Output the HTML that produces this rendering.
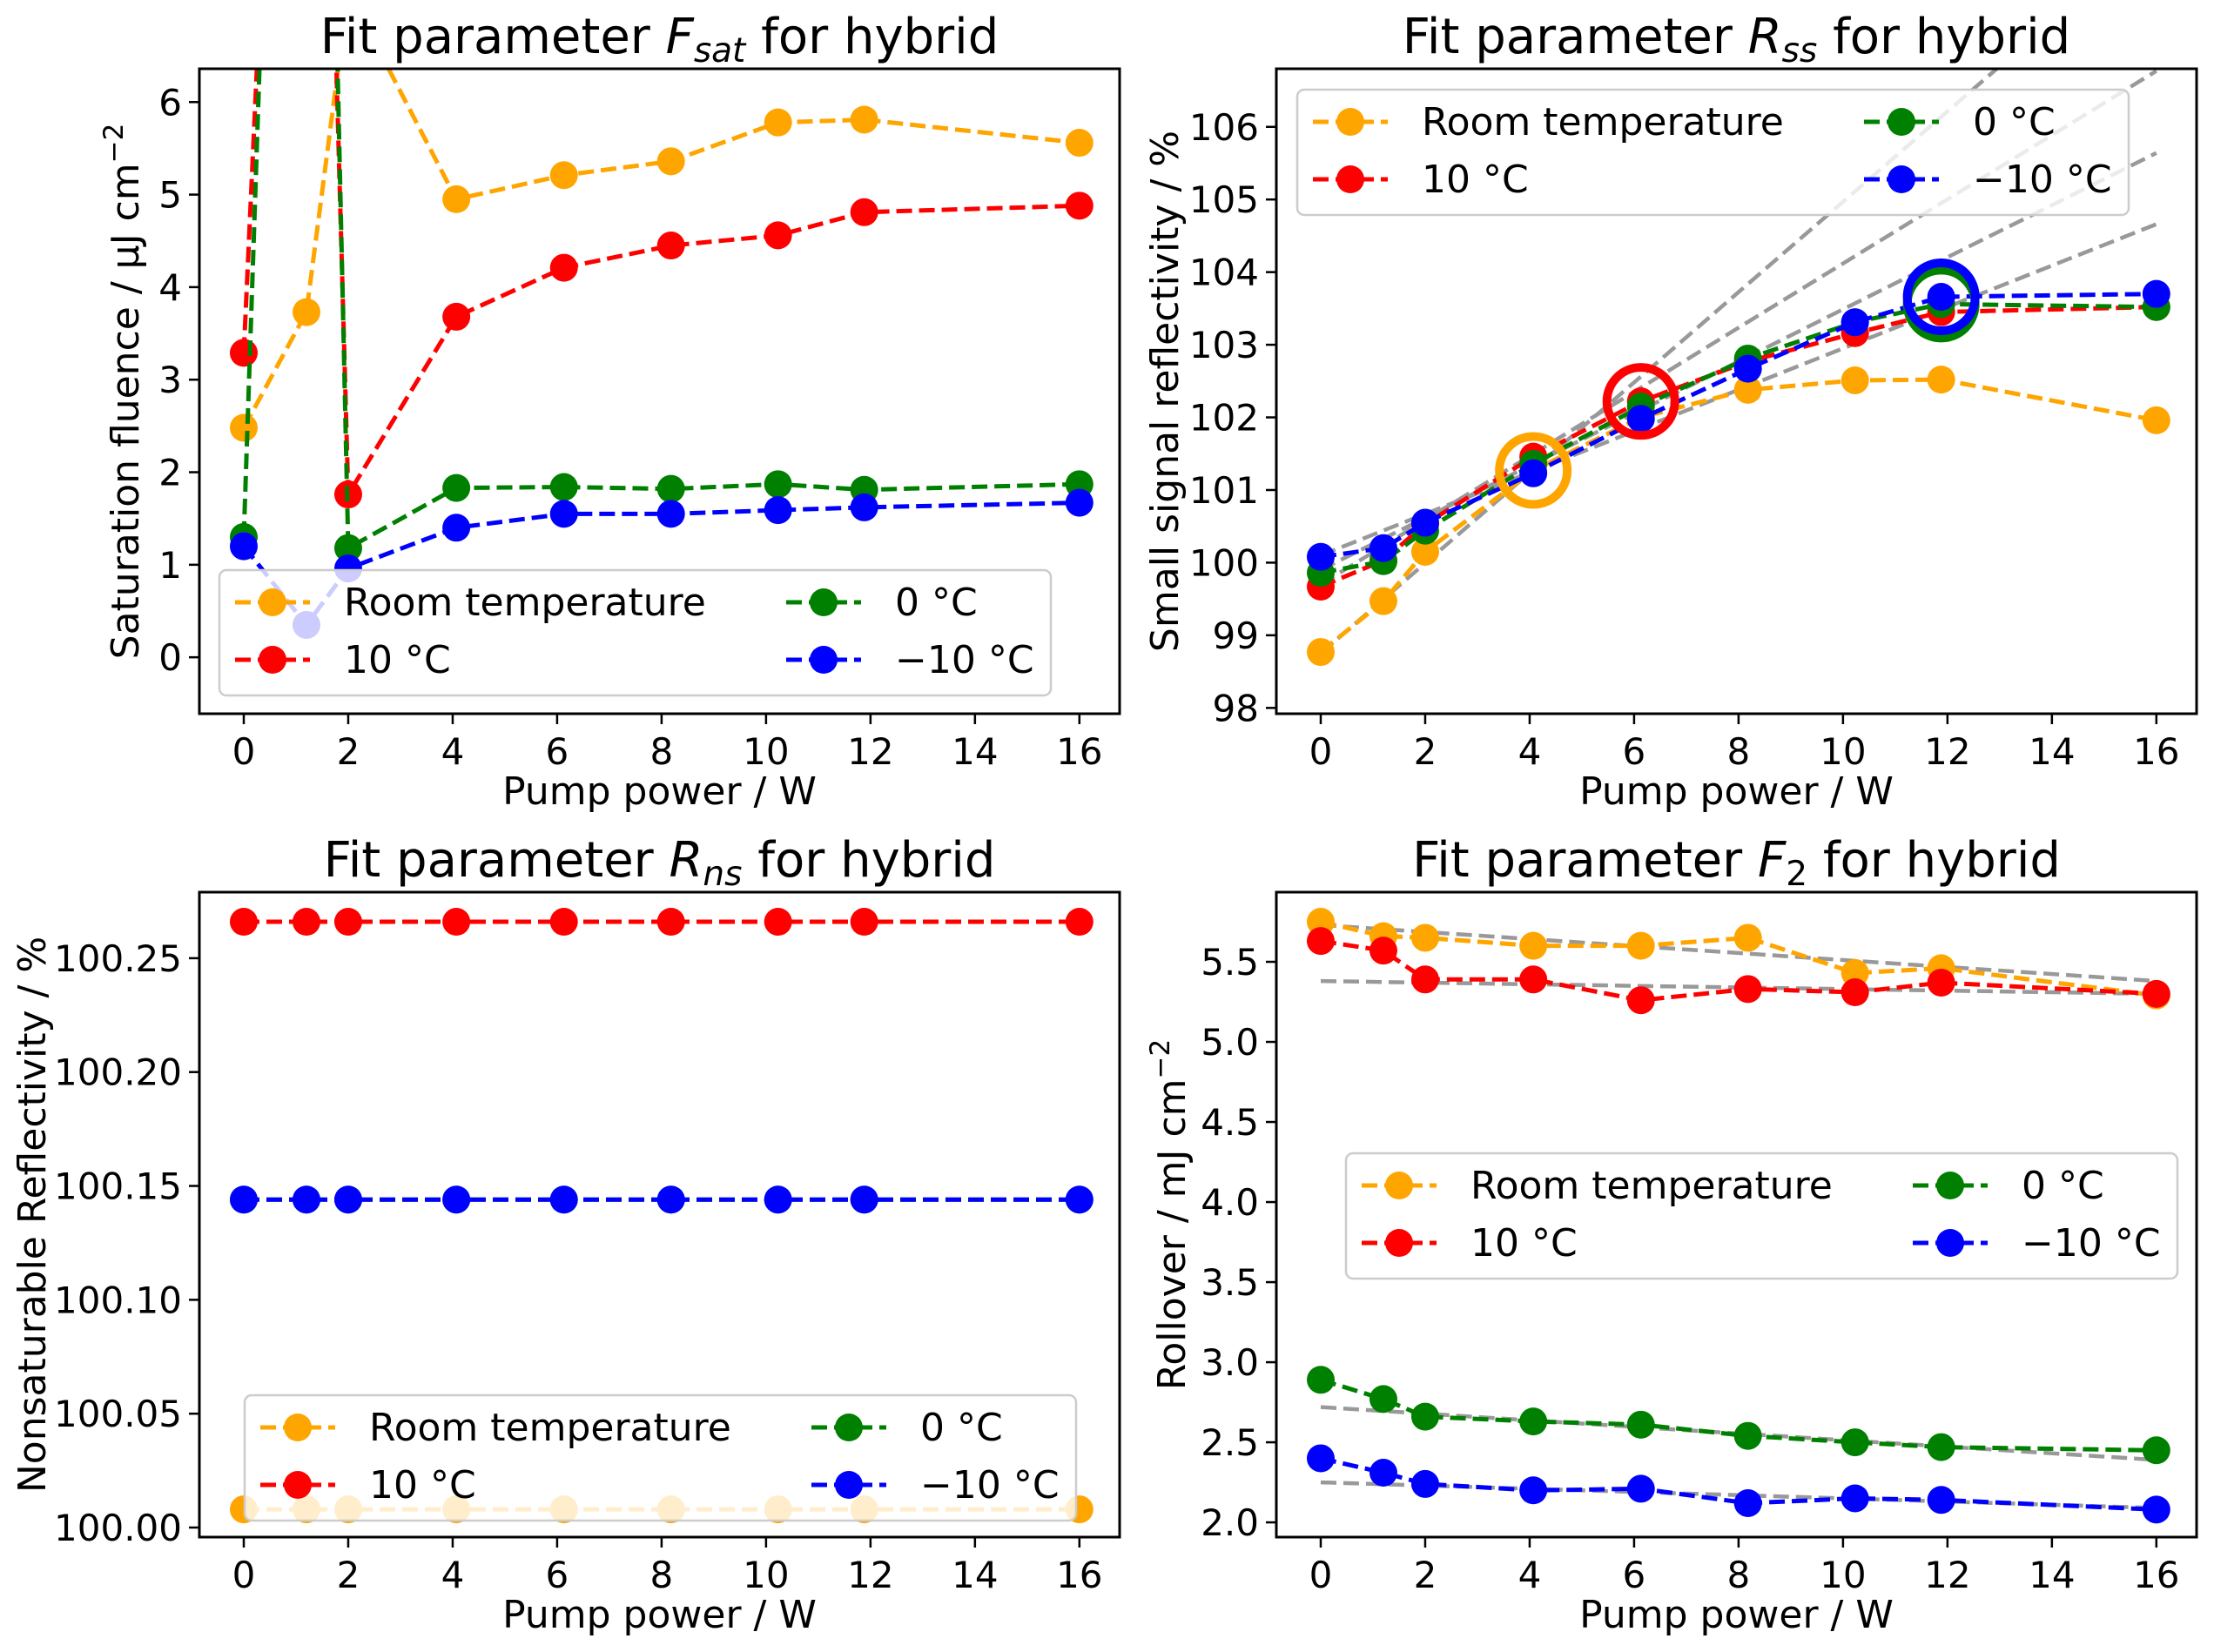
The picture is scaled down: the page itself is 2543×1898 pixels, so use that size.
<!DOCTYPE html>
<html><head><meta charset="utf-8"><style>
html,body{margin:0;padding:0;background:#fff}
svg{display:block}
text{font-family:"DejaVu Sans","Liberation Sans",sans-serif;fill:#000}
</style></head><body>
<svg id="fig" xmlns="http://www.w3.org/2000/svg" width="2543" height="1898" viewBox="0 0 2543 1898"></svg>
<script>
const X = [0,1.2,2,4.07,6.13,8.18,10.23,11.88,16];
const xTicks = [0,2,4,6,8,10,12,14,16];
const seriesNames = ["Room temperature","10 °C","0 °C","\u221210 °C"];
const seriesColors = ["orange","red","green","blue"];
// Panel 1: F_sat
const fsatRT = [2.48,3.73,7.2,4.95,5.21,5.36,5.78,5.81,5.56];
const fsat10 = [3.29,18.0,1.76,3.68,4.21,4.45,4.56,4.81,4.88];
const fsat0  = [1.30,21.5,1.18,1.83,1.84,1.82,1.87,1.81,1.87];
const fsatM10= [1.20,0.35,0.96,1.40,1.55,1.55,1.59,1.62,1.67];
const fsatTicks = [0,1,2,3,4,5,6];
// Panel 2: R_ss
const rssRT = [98.77,99.47,100.15,101.27,102.0,102.38,102.51,102.52,101.96];
const rss10 = [99.67,100.03,100.53,101.46,102.22,102.77,103.16,103.45,103.52];
const rss0  = [99.86,100.02,100.44,101.36,102.15,102.81,103.31,103.56,103.52];
const rssM10= [100.08,100.20,100.55,101.23,101.98,102.67,103.31,103.66,103.70];
const rssTicks = [98,99,100,101,102,103,104,105,106];
const rssFitStart = [98.75,99.7,99.9,100.1];
const rssFitEnd = [108.7,106.77,105.64,104.66];
const ringX = [4.07,6.13,11.88,11.88];
const ringY = [101.27,102.22,103.56,103.66];
const ringColors = ["orange","red","green","blue"];
// Panel 3: R_ns
const rnsRT = [100.008,100.008,100.008,100.008,100.008,100.008,100.008,100.008,100.008];
const rns10 = [100.266,100.266,100.266,100.266,100.266,100.266,100.266,100.266,100.266];
const rns0  = [100.144,100.144,100.144,100.144,100.144,100.144,100.144,100.144,100.144];
const rnsM10= [100.144,100.144,100.144,100.144,100.144,100.144,100.144,100.144,100.144];
const rnsTicks = [100.00,100.05,100.10,100.15,100.20,100.25];
// Panel 4: F_2
const f2RT = [5.75,5.66,5.65,5.60,5.60,5.65,5.43,5.46,5.29];
const f210 = [5.63,5.57,5.39,5.39,5.26,5.33,5.31,5.37,5.30];
const f20  = [2.89,2.77,2.66,2.63,2.61,2.54,2.50,2.47,2.45];
const f2M10= [2.40,2.31,2.24,2.20,2.21,2.12,2.15,2.14,2.08];
const f2Ticks = [2.0,2.5,3.0,3.5,4.0,4.5,5.0,5.5];
const f2FitStart = [5.73,5.38,2.72,2.25];
const f2FitEnd = [5.38,5.30,2.39,2.09];

const NS="http://www.w3.org/2000/svg";
const svg=document.getElementById('fig');
const LW=5, DASH='18 8';
function mk(tag,attrs,parent){const e=document.createElementNS(NS,tag);for(const k in attrs)e.setAttribute(k,attrs[k]);(parent||svg).appendChild(e);return e;}

function panel(cfg){
  const g=mk('g',{});
  
  
  const sx=v=>cfg.x0+(v-(-0.85))/(16.77+0.85)*(cfg.x1-cfg.x0);
  const sy=v=>cfg.y1-(v-cfg.ylim[0])/(cfg.ylim[1]-cfg.ylim[0])*(cfg.y1-cfg.y0);
  const cid='clip-'+cfg.name;
  const cp=mk('clipPath',{id:cid},g);
  mk('rect',{x:cfg.x0,y:cfg.y0,width:cfg.x1-cfg.x0,height:cfg.y1-cfg.y0},cp);
  const plot=mk('g',{'clip-path':'url(#'+cid+')'},g);
  if(cfg.fitStart){
    cfg.fitStart.forEach((s,i)=>{
      const l=mk('line',{x1:sx(0),y1:sy(s),x2:sx(16),y2:sy(cfg.fitEnd[i]),stroke:'#999','stroke-width':4.5,'stroke-dasharray':DASH},plot);
      
      
    });
  }
  cfg.series.forEach((arr,si)=>{
    const sg=mk('g',{},plot);
    
    
    const pts=arr.map((v,i)=>sx(X[i]).toFixed(1)+','+sy(v).toFixed(1)).join(' ');
    mk('polyline',{points:pts,fill:'none',stroke:seriesColors[si],'stroke-width':LW,'stroke-dasharray':DASH},sg);
    arr.forEach((v,i)=>{
      const c=mk('circle',{cx:sx(X[i]),cy:sy(v),r:16,fill:seriesColors[si]},sg);
      
      
    });
  });
  if(cfg.rings){
    ringX.forEach((rx,i)=>{
      const c=mk('circle',{cx:sx(rx),cy:sy(ringY[i]),r:39,fill:'none',stroke:ringColors[i],'stroke-width':10},plot);
      
      
    });
  }
  const fr=mk('rect',{x:cfg.x0,y:cfg.y0,width:cfg.x1-cfg.x0,height:cfg.y1-cfg.y0,fill:'none',stroke:'#000','stroke-width':3},g);
  
  
  xTicks.forEach(t=>{
    const x=sx(t);
    mk('line',{x1:x,y1:cfg.y1,x2:x,y2:cfg.y1+12,stroke:'#000','stroke-width':2.5},g);
    const tx=mk('text',{x:x,y:cfg.y1+58,'text-anchor':'middle','font-size':42},g);
    tx.textContent=t;
    
    
  });
  cfg.yticks.forEach(t=>{
    const y=sy(t);
    mk('line',{x1:cfg.x0-12,y1:y,x2:cfg.x0,y2:y,stroke:'#000','stroke-width':2.5},g);
    const tx=mk('text',{x:cfg.x0-20,y:y+15,'text-anchor':'end','font-size':42},g);
    tx.textContent=t.toFixed(cfg.dec);
    
    
  });
  const xl=mk('text',{x:(cfg.x0+cfg.x1)/2,y:cfg.y1+104,'text-anchor':'middle','font-size':44},g);
  xl.textContent='Pump power / W';
  
  
  const yl=mk('text',{transform:'translate('+cfg.ylx+','+((cfg.y0+cfg.y1)/2)+') rotate(-90)','text-anchor':'middle','font-size':44},g);
  yl.innerHTML=cfg.ylabel;
  
  
  const tt=mk('text',{x:(cfg.x0+cfg.x1)/2,y:cfg.y0-18,'text-anchor':'middle','font-size':56},g);
  tt.innerHTML=cfg.title;
  
  
  const lg=mk('g',{},g);
  
  
  const L=cfg.leg;
  mk('rect',{x:L[0],y:L[1],width:955,height:144,rx:8,fill:'#fff','fill-opacity':0.8,stroke:'#ccc','stroke-width':2.5},lg);
  const pos=[[0,0],[0,1],[1,0],[1,1]];
  pos.forEach((p,i)=>{
    const mx=L[0]+(p[0]?694:61), ty=L[1]+(p[1]?103:37);
    const eg=mk('g',{},lg);
    
    
    mk('line',{x1:mx-43,y1:ty,x2:mx+43,y2:ty,stroke:seriesColors[i],'stroke-width':LW,'stroke-dasharray':DASH},eg);
    mk('circle',{cx:mx,cy:ty,r:16,fill:seriesColors[i]},eg);
    const t=mk('text',{x:mx+82,y:ty+15,'font-size':44},eg);
    t.textContent=seriesNames[i];
  });
}
panel({name:'panel-fsat',x0:229,x1:1286,y0:79,y1:820,ylim:[-0.61,6.36],yticks:fsatTicks,dec:0,
  series:[fsatRT,fsat10,fsat0,fsatM10],ylx:159,
  ylabel:'Saturation fluence / μJ cm<tspan dy="-18" font-size="31">−2</tspan>',
  title:'Fit parameter <tspan font-style="italic">F</tspan><tspan font-style="italic" font-size="39" dy="10">sat</tspan><tspan dy="-10"> for hybrid</tspan>',
  leg:[252,655]});
panel({name:'panel-rss',x0:1466,x1:2523,y0:79,y1:820,ylim:[97.92,106.80],yticks:rssTicks,dec:0,
  series:[rssRT,rss10,rss0,rssM10],ylx:1353,fitStart:rssFitStart,fitEnd:rssFitEnd,rings:true,
  ylabel:'Small signal reflectivity / %',
  title:'Fit parameter <tspan font-style="italic">R</tspan><tspan font-style="italic" font-size="39" dy="10">ss</tspan><tspan dy="-10"> for hybrid</tspan>',
  leg:[1490,103]});
panel({name:'panel-rns',x0:229,x1:1286,y0:1025,y1:1766,ylim:[99.9958,100.279],yticks:rnsTicks,dec:2,
  series:[rnsRT,rns10,rns0,rnsM10],ylx:52,
  ylabel:'Nonsaturable Reflectivity / %',
  title:'Fit parameter <tspan font-style="italic">R</tspan><tspan font-style="italic" font-size="39" dy="10">ns</tspan><tspan dy="-10"> for hybrid</tspan>',
  leg:[281,1603]});
panel({name:'panel-f2',x0:1466,x1:2523,y0:1025,y1:1766,ylim:[1.908,5.935],yticks:f2Ticks,dec:1,
  series:[f2RT,f210,f20,f2M10],ylx:1361,fitStart:f2FitStart,fitEnd:f2FitEnd,
  ylabel:'Rollover / mJ cm<tspan dy="-18" font-size="31">−2</tspan>',
  title:'Fit parameter <tspan font-style="italic">F</tspan><tspan font-size="39" dy="10">2</tspan><tspan dy="-10"> for hybrid</tspan>',
  leg:[1546,1325]});
</script>
</body></html>
